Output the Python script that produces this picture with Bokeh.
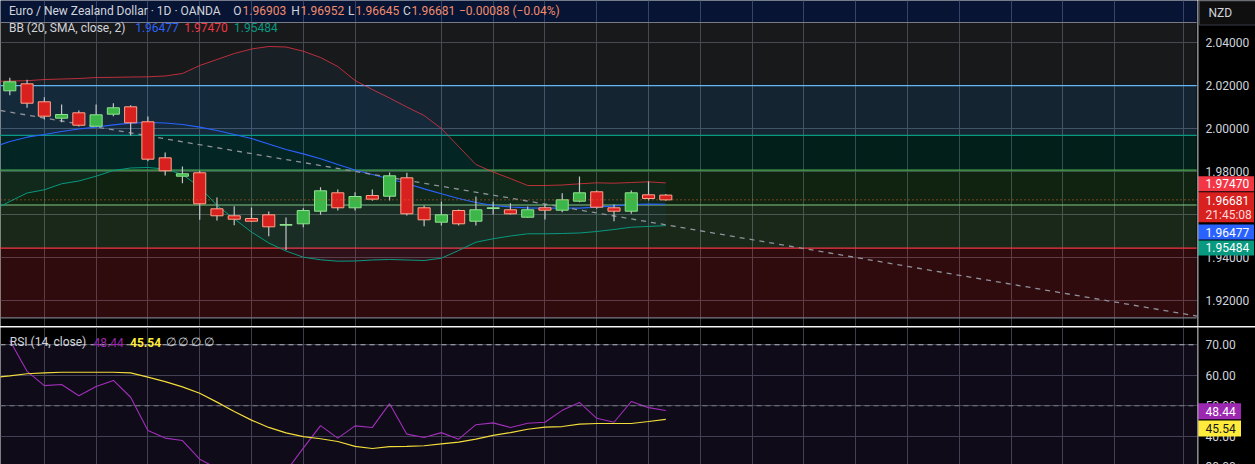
from bokeh.plotting import figure
from bokeh.models import Range1d, FixedTicker, Grid, Span, Label, BoxAnnotation
from bokeh.layouts import column, row
from bokeh.core.properties import value
from bokeh.embed import file_html
from bokeh.resources import INLINE

# ---------------- data ----------------
candle_idx = list(range(39))
opens = [2.01753, 2.02079, 2.01242, 2.00479, 2.0073, 2.00107, 2.00665, 2.01009, 2.00312, 1.98637,
         1.97781, 1.9794, 1.96265, 1.9594, 1.95814, 1.95986, 1.95502, 1.95567, 1.96153, 1.97009,
         1.96312, 1.96884, 1.96851, 1.97707, 1.96312, 1.95642, 1.96186, 1.95688, 1.96279, 1.96219,
         1.95874, 1.96312, 1.962, 1.96619, 1.97056, 1.96312, 1.96153, 1.96916, 1.96903]
highs = [2.02358, 2.02265, 2.01456, 2.01116, 2.00837, 2.01116, 2.01177, 2.01084, 2.00558, 1.98884,
         1.98233, 1.98033, 1.96791, 1.96386, 1.96326, 1.9614, 1.9586, 1.96293, 1.9727, 1.97163,
         1.97037, 1.97163, 1.97953, 1.9794, 1.96419, 1.96605, 1.96233, 1.96837, 1.96605, 1.96526,
         1.96372, 1.96479, 1.96991, 1.97767, 1.97116, 1.96465, 1.97116, 1.97535, 1.96952]
lows = [2.01549, 2.00963, 2.00419, 2.00293, 2.00093, 2.0009, 2.00572, 1.99674, 1.98479, 1.97814,
        1.97456, 1.95753, 1.95721, 1.95502, 1.95651, 1.94991, 1.94349, 1.95409, 1.95986, 1.96186,
        1.96186, 1.96637, 1.96651, 1.95953, 1.95456, 1.95488, 1.95488, 1.95488, 1.96, 1.96,
        1.9585, 1.95767, 1.96107, 1.96572, 1.96265, 1.95688, 1.96033, 1.96651, 1.96645]
closes = [2.02172, 2.01177, 2.00572, 2.00651, 2.00153, 2.00637, 2.00963, 2.00265, 1.98572, 1.98033,
          1.97893, 1.96498, 1.9594, 1.95781, 1.95688, 1.95428, 1.95535, 1.96186, 1.97102, 1.96312,
          1.96837, 1.96712, 1.978, 1.96033, 1.95753, 1.95986, 1.95567, 1.96219, 1.96312, 1.96033,
          1.96219, 1.962, 1.96684, 1.97009, 1.9634, 1.96153, 1.97009, 1.96744, 1.96681]

bb_idx = list(range(-1, 39))
bb_upper = [2.02186, 2.02209, 2.02223, 2.02279, 2.02302, 2.02326, 2.02372, 2.02381, 2.02395, 2.02405,
            2.02442, 2.02558, 2.02930, 2.03209, 2.03488, 2.03698, 2.03814, 2.03791, 2.03595, 2.03302,
            2.02884, 2.02233, 2.01814, 2.01419, 2.01000, 2.00605, 2.00000, 1.99163, 1.98326, 1.97977,
            1.97674, 1.97349, 1.97349, 1.97372, 1.97428, 1.97474, 1.97456, 1.97488, 1.97521, 1.97470]
bb_basis = [1.99116, 1.99395, 1.99595, 1.99721, 1.99860, 1.99977, 2.00060, 2.00172, 2.00251, 2.00279,
            2.00256, 2.00186, 2.00060, 1.99907, 1.99721, 1.99535, 1.99279, 1.99023, 1.98823, 1.98591,
            1.98326, 1.98070, 1.97860, 1.97651, 1.97442, 1.97195, 1.96963, 1.96744, 1.96558, 1.96419,
            1.96349, 1.96312, 1.96293, 1.96293, 1.96293, 1.96340, 1.96405, 1.96465, 1.96479, 1.96477]
bb_lower = [1.96186, 1.96605, 1.97000, 1.97149, 1.97428, 1.97558, 1.97781, 1.98047, 1.98163, 1.98186,
            1.98116, 1.97860, 1.97279, 1.96419, 1.95800, 1.95186, 1.94674, 1.94302, 1.94014, 1.93893,
            1.93828, 1.93837, 1.93884, 1.93907, 1.93884, 1.93860, 1.93967, 1.94326, 1.94712, 1.94870,
            1.95000, 1.95102, 1.95102, 1.95116, 1.95140, 1.95209, 1.95302, 1.95409, 1.95442, 1.95484]

rsi_vals = [71.4, 61.3, 56.6, 57.0, 53.3, 56.3, 58.3, 52.8, 41.9, 39.4,
            38.6, 32.5, 29.5, 27.0, 26.0, 24.5, 28.5, 36.1, 43.5, 39.4,
            43.4, 42.9, 50.7, 40.7, 39.6, 41.2, 39.05, 43.8, 44.4, 42.9,
            44.3, 44.6, 48.5, 51.1, 45.9, 44.6, 51.4, 49.4, 48.44]
rsi_ma_idx = list(range(-1, 39))
rsi_ma = [59.2, 59.8, 60.5, 60.8, 61.0, 61.0, 61.0, 61.0, 60.8, 59.4,
          57.9, 56.2, 54.1, 51.2, 48.1, 45.3, 42.9, 41.1, 39.9, 39.2,
          38.3, 36.7, 36.0, 36.6, 36.7, 36.9, 37.5, 38.1, 39.05, 40.3,
          41.2, 42.3, 43.0, 43.2, 44.0, 44.2, 44.2, 44.2, 44.85, 45.54]

fib_levels = [1.91195, 1.94437, 1.96442, 1.98063, 1.99683, 2.01991, 2.04930, 2.13418]
fib_colors = ["#787b86", "#f23645", "#81c784", "#4caf50", "#089981", "#64b5f6", "#787b86", "#2962ff"]
fib_span = [-2, 68.75]

trend_x = [-0.54, 68.8]
trend_y = [2.00837, 1.9127]

last_close = 1.96681
time_grid = [2, 5, 8, 11, 14, 17, 20, 25, 28, 31, 34, 37, 40, 43, 46, 49, 52, 55, 58, 61, 64, 68]
price_ticks = [1.92, 1.94, 1.96, 1.98, 2.00, 2.02, 2.04]
rsi_ticks = [30, 40, 50, 60, 70]

header_title = "Euro / New Zealand Dollar · 1D · OANDA"
ohlc_keys = ["O", "H", "L", "C"]
ohlc_vals = ["1.96903", "1.96952", "1.96645", "1.96681"]
change_text = "−0.00088 (−0.04%)"
bb_title = "BB (20, SMA, close, 2)"
bb_vals = ["1.96477", "1.97470", "1.95484"]
rsi_title = "RSI (14, close)"
rsi_legend_vals = ["48.44", "45.54"]

# price-scale badges: text, text position, box centre, box height (px), colour
price_badges = [
    ("1.97470", 1.97428, 1.97428, 15, "#f23645"),
    ("1.96681", 1.96674, 1.96340, 30, "#d8201e"),
    ("1.96477", 1.95186, 1.95186, 15, "#2962ff"),
    ("1.95484", 1.94442, 1.94442, 15, "#089981"),
]
countdown_text = "21:45:08"
countdown_pos = 1.96000
currency = "NZD"
currency_pos = 2.05372
rsi_badges = [
    ("48.44", 48.23, "#9c27b0", "#ffffff"),
    ("45.54", 42.56, "#ffeb3b", "#131722"),
]

# ---------------- layout ----------------
FW = 1197
AW = 58
MH = 326
RH = 138
FONT = "Roboto"
TXT = "#d1d4dc"
GRID = "#3a3d45"
SEP = "#d9d9d9"
AXLINE = "#a0a3ab"


def add_label(fig, x, y, text, color, size="12px", bold=False):
    fig.add_layout(Label(x=x, y=y, x_units="screen", y_units="screen", text=text,
                         text_color=color, text_font=FONT, text_font_size=size,
                         text_font_style="bold" if bold else "normal",
                         text_baseline="middle", text_align="left"))


def base_fig(width, height, xr, yr, top_border=0):
    f = figure(width=width, height=height, x_range=xr, y_range=yr,
               output_backend="svg", toolbar_location=None, x_axis_location=None,
               y_axis_location=None, min_border_left=0, min_border_right=0,
               min_border_top=top_border, min_border_bottom=0,
               background_fill_color="#000000",
               border_fill_color=SEP if top_border else "#000000",
               outline_line_color=None)
    for g in f.grid:
        g.visible = False
    return f


def axis_text(fig, ys, labels):
    fig.text(x=8, y=ys, text=labels, text_font=value(FONT), text_font_size=value("12px"),
             text_color=TXT, text_baseline="middle", text_align="left")


xr = Range1d(-0.539, 68.80)
yr_main = Range1d(1.907907, 2.059535)
yr_rsi = Range1d(30.75, 75.67)

# ---------------- main pane ----------------
p = base_fig(FW, MH, xr, yr_main)
p.add_layout(Grid(dimension=0, ticker=FixedTicker(ticks=time_grid), grid_line_color=GRID))
p.add_layout(Grid(dimension=1, ticker=FixedTicker(ticks=price_ticks), grid_line_color=GRID))

p.quad(left=fib_span[0], right=fib_span[1], bottom=fib_levels[:-1], top=fib_levels[1:],
       fill_color=fib_colors[1:], fill_alpha=0.2, line_color=None)
p.segment(x0=fib_span[0], x1=fib_span[1], y0=fib_levels[:-1], y1=fib_levels[:-1],
          line_color=fib_colors[:-1], line_width=1.2)

p.varea(x=bb_idx, y1=bb_lower, y2=bb_upper, fill_color="#2196f3", fill_alpha=0.05)
p.line(bb_idx, bb_upper, line_color="#f23645", line_alpha=0.75, line_width=1)
p.line(bb_idx, bb_basis, line_color="#2962ff", line_width=1.2)
p.line(bb_idx, bb_lower, line_color="#089981", line_width=1)

p.line(trend_x, trend_y, line_color="#8f929b", line_width=1.3, line_dash="5 5")
p.add_layout(Span(location=last_close, dimension="width", line_color="#e0662e",
                  line_dash="1 3", line_width=1))

is_up = [c >= o for o, c in zip(opens, closes)]
body_top = [max(o, c) for o, c in zip(opens, closes)]
body_bot = [min(o, c) for o, c in zip(opens, closes)]
fills = ["#3cb648" if u else "#d8201e" for u in is_up]
borders = ["#8fe290" if u else "#ffa48c" for u in is_up]
p.segment(x0=candle_idx, y0=lows, x1=candle_idx, y1=highs, line_color="#c3c5ca", line_width=1.2)
p.vbar(x=candle_idx, width=0.7, top=body_top, bottom=body_bot, fill_color=fills,
       line_color=borders, line_width=1)

add_label(p, 8.4, MH - 10, header_title, TXT)
ohlc_x = [(232.7, 242.0), (290.8, 300.0), (347.5, 355.0), (402.6, 411.0)]
for (kx, vx), k, v in zip(ohlc_x, ohlc_keys, ohlc_vals):
    add_label(p, kx, MH - 10, k, TXT)
    add_label(p, vx, MH - 10, v, "#f08c6e")
add_label(p, 458.5, MH - 10, change_text, "#f08c6e")
add_label(p, 8.4, MH - 27, bb_title, TXT)
for xx, v, col in zip([134.7, 183.7, 233.5], bb_vals, ["#2962ff", "#f23645", "#089981"]):
    add_label(p, xx, MH - 27, v, col)

# ---------------- main price scale ----------------
pa = base_fig(AW, MH, Range1d(0, AW), yr_main)
pa.add_layout(Span(location=0.5, dimension="height", line_color=AXLINE, line_width=1))
axis_text(pa, price_ticks, ["%.5f" % t for t in price_ticks])
pa.rect(x=30, y=[currency_pos], width=56, height=24, width_units="screen", height_units="screen",
        fill_color="#0f0f0f", line_color="#363a45")
pa.text(x=11, y=[currency_pos], text=[currency], text_font=value(FONT),
        text_font_size=value("12px"), text_color=TXT, text_baseline="middle")
pa.rect(x=28.5, y=[b[2] for b in price_badges], width=56, height=[b[3] for b in price_badges],
        width_units="screen", height_units="screen",
        fill_color=[b[4] for b in price_badges], line_color=None)
pa.text(x=8, y=[b[1] for b in price_badges], text=[b[0] for b in price_badges],
        text_font=value(FONT), text_font_size=value("12px"), text_color="#ffffff",
        text_baseline="middle")
pa.text(x=8, y=[countdown_pos], text=[countdown_text], text_font=value(FONT),
        text_font_size=value("12px"), text_color="#ffd9d9", text_baseline="middle")

# ---------------- RSI pane ----------------
r = base_fig(FW, RH, xr, yr_rsi, top_border=1)
r.add_layout(Grid(dimension=0, ticker=FixedTicker(ticks=time_grid), grid_line_color=GRID))
r.add_layout(Grid(dimension=1, ticker=FixedTicker(ticks=rsi_ticks), grid_line_color=GRID))
r.add_layout(BoxAnnotation(bottom=30, top=70, fill_color="#7e57c2", fill_alpha=0.12,
                           line_color=None, level="underlay"))
r.add_layout(Span(location=70, dimension="width", line_color="#b2b5be", line_dash="5 4", line_width=1))
r.add_layout(Span(location=50, dimension="width", line_color="#787b86", line_dash="5 4", line_width=1))
r.add_layout(Span(location=30, dimension="width", line_color="#b2b5be", line_dash="5 4", line_width=1))

r.line(candle_idx, rsi_vals, line_color="#a22fbb", line_width=1.1)
r.line(rsi_ma_idx, rsi_ma, line_color="#f2dc3c", line_width=1.2)

ry = RH - 1 - (341.5 - 327)
add_label(r, 9.3, ry, rsi_title, TXT)
add_label(r, 93, ry, rsi_legend_vals[0], "#9c27b0")
add_label(r, 129.5, ry, rsi_legend_vals[1], "#ffeb3b", bold=True)
add_label(r, 165, ry, "∅  ∅  ∅  ∅", TXT)

# ---------------- RSI scale ----------------
ra = base_fig(AW, RH, Range1d(0, AW), yr_rsi, top_border=1)
ra.add_layout(Span(location=0.5, dimension="height", line_color=AXLINE, line_width=1))
axis_text(ra, rsi_ticks, ["%.2f" % t for t in rsi_ticks])
ra.rect(x=22, y=[b[1] for b in rsi_badges], width=43, height=16, width_units="screen",
        height_units="screen", fill_color=[b[2] for b in rsi_badges], line_color=None)
ra.text(x=8, y=[b[1] for b in rsi_badges], text=[b[0] for b in rsi_badges],
        text_font=value(FONT), text_font_size=value("12px"),
        text_color=[b[3] for b in rsi_badges], text_baseline="middle")

layout = column(row(p, pa, spacing=0), row(r, ra, spacing=0), spacing=0)
open("out.html", "w").write(file_html(layout, INLINE))
